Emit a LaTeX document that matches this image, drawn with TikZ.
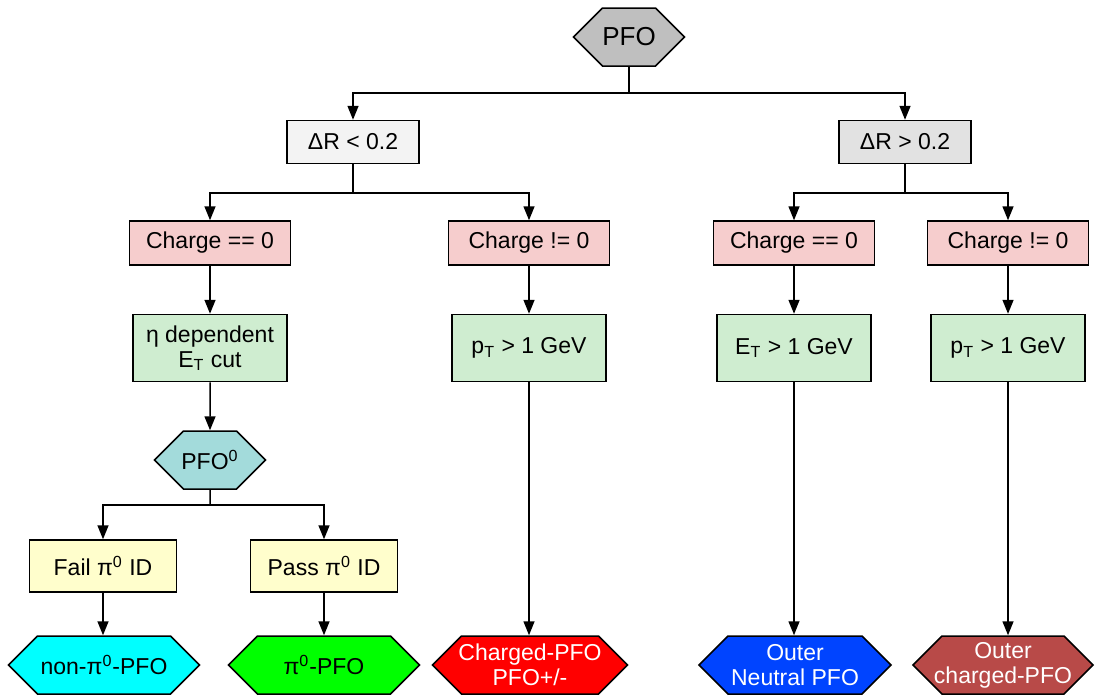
\documentclass[tikz,border=0pt]{standalone}
\usepackage{fontspec}
\setmainfont{Liberation Sans}
\usetikzlibrary{arrows.meta, shapes.symbols}
\definecolor{pfoGray}{HTML}{BFBFBF}
\definecolor{drLight}{HTML}{F3F3F3}
\definecolor{drDark}{HTML}{E2E2E2}
\definecolor{chgPink}{HTML}{F6CDCD}
\definecolor{cutGreen}{HTML}{CFEDD0}
\definecolor{idYellow}{HTML}{FFFECC}
\definecolor{pfoTeal}{HTML}{A3DBDB}
\definecolor{outCyan}{HTML}{00FFFF}
\definecolor{outGreen}{HTML}{00FF00}
\definecolor{outRed}{HTML}{FF0000}
\definecolor{outBlue}{HTML}{0044FF}
\definecolor{outBrown}{HTML}{B84A48}
\tikzset{
  arrowK/.style={-{Triangle[length=7pt,width=5.5pt]}, black, line width=0.75pt},
  lineK/.style={black, line width=0.75pt},
  boxCut/.style={rectangle, draw=black, line width=0.75pt, align=center,
                 inner sep=2pt},
  boxDR/.style={boxCut, minimum width=66pt, minimum height=21.5pt},
  boxChg/.style={boxCut, fill=chgPink, minimum width=80.5pt, minimum height=22pt},
  boxGreen/.style={boxCut, fill=cutGreen, minimum width=77pt, minimum height=33.5pt},
  boxID/.style={boxCut, fill=idYellow, minimum width=73.5pt, minimum height=26pt},
  hexBox/.style={signal, signal to=east and west, signal pointer angle=90,
                 draw=black, line width=0.75pt, align=center, inner ysep=1pt,
                 inner xsep=-7pt, minimum height=29pt},
  hexOut/.style={hexBox, minimum width=95.5pt},
}

\begin{document}
\begin{tikzpicture}[x=0.5pt, y=-0.5pt, font=\fontsize{11.5}{12.5}\selectfont]
  \useasboundingbox (0,0) rectangle (1095,697);
  % top
  \node[hexBox, fill=pfoGray, minimum width=55.5pt, font=\fontsize{13}{14}\selectfont] (pfo) at (629,37) {PFO};
  \node[boxDR, fill=drLight] (drlo) at (353,142) {ΔR < 0.2};
  \node[boxDR, fill=drDark] (drhi) at (905,142) {ΔR > 0.2};
  % charge
  \node[boxChg] (chgA) at (210,243) {Charge == 0};
  \node[boxChg] (chgB) at (529,243) {Charge != 0};
  \node[boxChg] (chgC) at (794,243) {Charge == 0};
  \node[boxChg] (chgD) at (1008,243) {Charge != 0};
  % cuts
  \node[boxGreen] (etacut) at (210,348) {η dependent\\E\textsubscript{T} cut};
  \node[boxGreen] (ptA) at (529,348) {p\textsubscript{T} > 1 GeV};
  \node[boxGreen] (etB) at (794,348) {E\textsubscript{T} > 1 GeV};
  \node[boxGreen] (ptB) at (1008,348) {p\textsubscript{T} > 1 GeV};
  \node[hexBox, fill=pfoTeal, minimum width=55.5pt] (pfoz) at (210,460) {PFO\textsuperscript{0}};
  \node[boxID] (fail) at (103,566) {Fail π\textsuperscript{0} ID};
  \node[boxID] (pass) at (324,566) {Pass π\textsuperscript{0} ID};
  % outputs
  \node[hexOut, fill=outCyan] (nonpi) at (104,665) {non-π\textsuperscript{0}-PFO};
  \node[hexOut, fill=outGreen] (pizero) at (324,665) {π\textsuperscript{0}-PFO};
  \node[hexOut, fill=outRed, text=white, minimum width=97.5pt] (charged) at (530,665) {Charged-PFO\\PFO+/-};
  \node[hexOut, fill=outBlue, text=white, minimum width=96pt] (outN) at (795,665) {Outer\\Neutral PFO};
  \node[hexOut, fill=outBrown, text=white, minimum width=90pt] (outC) at (1003,665) {Outer\\charged-PFO};

  \coordinate (j0) at (629,93);
  \coordinate (j1) at (353,193);
  \coordinate (j2) at (905,193);
  \coordinate (j3) at (210,505);
  \draw[lineK] (pfo) -- (j0);
  \draw[arrowK] (j0) -| (drlo);
  \draw[arrowK] (j0) -| (drhi);
  \draw[lineK] (drlo) -- (j1);
  \draw[arrowK] (j1) -| (chgA);
  \draw[arrowK] (j1) -| (chgB);
  \draw[lineK] (drhi) -- (j2);
  \draw[arrowK] (j2) -| (chgC);
  \draw[arrowK] (j2) -| (chgD);
  \draw[arrowK] (chgA) -- (etacut);
  \draw[arrowK] (chgB) -- (ptA);
  \draw[arrowK] (chgC) -- (etB);
  \draw[arrowK] (chgD) -- (ptB);
  \draw[arrowK] (etacut) -- (pfoz);
  \draw[lineK] (pfoz) -- (j3);
  \draw[arrowK] (j3) -| (fail);
  \draw[arrowK] (j3) -| (pass);
  \draw[arrowK] (fail) -- (fail |- nonpi.north);
  \draw[arrowK] (pass) -- (pass |- pizero.north);
  \draw[arrowK] (ptA) -- (ptA |- charged.north);
  \draw[arrowK] (etB) -- (etB |- outN.north);
  \draw[arrowK] (ptB) -- (ptB |- outC.north);
\end{tikzpicture}
\end{document}
